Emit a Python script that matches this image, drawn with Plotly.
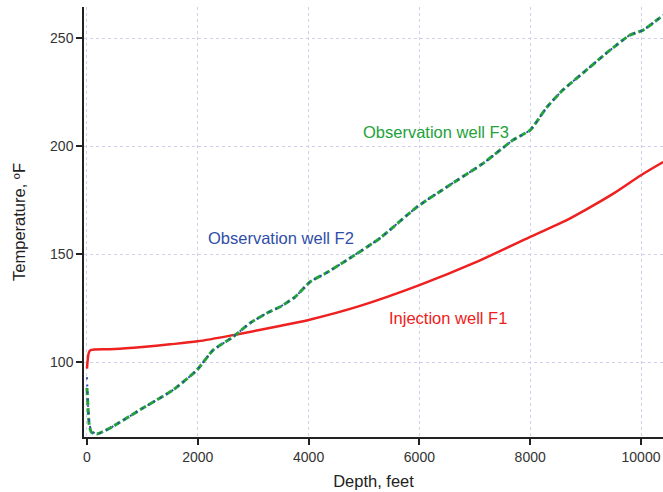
import plotly.graph_objects as go

# Injection well F1
f1_depth = [0, 30, 60, 500, 1000, 1500, 2000, 2700, 3500, 4000, 4930, 6000, 7000, 8000, 8660, 9000, 9500, 10000, 10400]
f1_temp = [97, 104, 105.5, 106, 107, 108.2, 109.6, 112.8, 116.8, 119.5, 126, 135.6, 146, 158, 165.7, 170.5, 178, 186.5, 192.6]

# Observation well F2
f2_depth = [0, 20, 40, 80, 180, 415, 1010, 1550, 1985, 2275, 2635, 2940, 3250, 3480, 3750, 4030, 4300, 4690, 5290,
            5960, 6550, 7150, 7690, 8000, 8300, 8590, 8950, 9440, 9800, 10040, 10400]
f2_temp = [93, 80, 72, 68, 66.7, 69.4, 78.7, 87, 96.3, 105.5, 111.6, 118, 122.7, 125.5, 130, 137.2, 141, 147.2, 157.4,
           171.9, 182, 192, 202.8, 207.4, 218, 226, 233.8, 244.4, 251.4, 253.7, 260.6]

# Observation well F3
f3_depth = [0, 20, 40, 80, 180, 415, 1010, 1550, 1985, 2275, 2635, 2940, 3250, 3480, 3750, 4030, 4300, 4690, 5290,
            5960, 6550, 7150, 7690, 8000, 8300, 8590, 8950, 9440, 9800, 10040, 10400]
f3_temp = [88, 78, 71, 67.5, 66.7, 69.4, 78.7, 87, 96.3, 105.5, 111.6, 118, 122.7, 125.5, 130, 137.2, 141, 147.2, 157.4,
           171.9, 182, 192, 202.8, 207.4, 218, 226, 233.8, 244.4, 251.4, 253.7, 260.6]

x_ticks = [0, 2000, 4000, 6000, 8000, 10000]
y_ticks = [100, 150, 200, 250]

RED = "#ee2020"
GREEN = "#22a23a"
BLUE = "#2f4ea8"
FONT = "Arial, Liberation Sans, sans-serif"

fig = go.Figure()
fig.add_trace(go.Scatter(x=f1_depth, y=f1_temp, mode="lines", line=dict(color=RED, width=2.5, shape="spline", smoothing=0.8),
                         name="Injection well F1"))
fig.add_trace(go.Scatter(x=f3_depth, y=f3_temp, mode="lines", line=dict(color=GREEN, width=3, dash="7px,3px", shape="spline", smoothing=0.5),
                         name="Observation well F3"))
fig.add_trace(go.Scatter(x=f2_depth, y=f2_temp, mode="lines", line=dict(color=BLUE, width=2, dash="2px,5px", shape="spline", smoothing=0.5),
                         name="Observation well F2"))

fig.add_annotation(x=6300, y=206.5, text="Observation well F3", showarrow=False, font=dict(color=GREEN, size=16.5, family=FONT))
fig.add_annotation(x=3500, y=157.4, text="Observation well F2", showarrow=False, font=dict(color=BLUE, size=16.5, family=FONT))
fig.add_annotation(x=6516, y=120.4, text="Injection well F1", showarrow=False, font=dict(color=RED, size=16.5, family=FONT))

axis_common = dict(
    showline=True, linecolor="#222", linewidth=1.5,
    ticks="outside", ticklen=6, tickcolor="#222", tickwidth=1.5,
    showgrid=True, gridcolor="#cfd0ea", griddash="dot", gridwidth=1,
    zeroline=False, tickfont=dict(size=14, color="#333", family=FONT),
)

fig.update_layout(
    width=663, height=492,
    margin=dict(l=84, r=0, t=7, b=55),
    paper_bgcolor="white", plot_bgcolor="white",
    showlegend=False,
    font=dict(family=FONT, color="#222"),
    xaxis=dict(range=[-54, 10397], tickvals=x_ticks, ticktext=[str(v) for v in x_ticks],
               title=dict(text="Depth, feet", font=dict(size=16.5, color="#222", family=FONT), standoff=12), **axis_common),
    yaxis=dict(range=[65.3, 264.4], tickvals=y_ticks,
               title=dict(text="Temperature, ºF", font=dict(size=16.5, color="#222", family=FONT), standoff=20), **axis_common),
)

fig.write_html("out.html")
